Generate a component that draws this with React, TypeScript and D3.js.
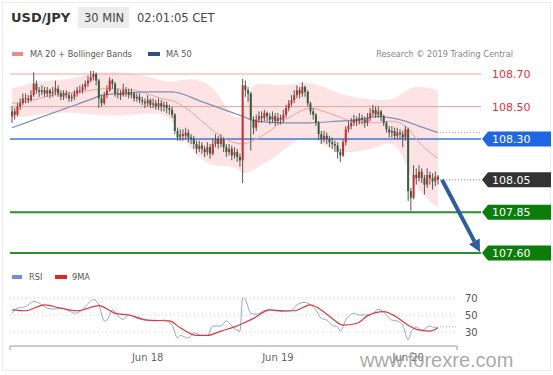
import React from "react";
import * as d3 from "d3";

// USD/JPY 30 min candles (open = previous close)
const firstOpen = 108.44;
const closes = [
  108.47, 108.45, 108.5, 108.52, 108.55, 108.55, 108.54, 108.57, 108.64, 108.6,
  108.59, 108.6, 108.58, 108.6, 108.58, 108.59, 108.61, 108.58, 108.56, 108.58,
  108.57, 108.55, 108.56, 108.58, 108.6, 108.6, 108.62, 108.64, 108.66, 108.68,
  108.7, 108.66, 108.55, 108.52, 108.57, 108.6, 108.66, 108.64, 108.58, 108.58,
  108.57, 108.6, 108.59, 108.57, 108.58, 108.55, 108.56, 108.54, 108.53, 108.52,
  108.54, 108.51, 108.52, 108.5, 108.52, 108.5, 108.51, 108.49, 108.48, 108.45,
  108.35, 108.31, 108.33, 108.32, 108.34, 108.31, 108.3, 108.27, 108.24, 108.26,
  108.24, 108.22, 108.25, 108.21, 108.27, 108.3, 108.27, 108.3, 108.25, 108.22,
  108.24, 108.2, 108.22, 108.19, 108.17, 108.63, 108.6, 108.58, 108.42, 108.37,
  108.42, 108.44, 108.43, 108.46, 108.44, 108.42, 108.44, 108.41, 108.43, 108.42,
  108.45, 108.49, 108.52, 108.54, 108.57, 108.6, 108.58, 108.62, 108.59, 108.52,
  108.47, 108.45, 108.4, 108.33, 108.3, 108.32, 108.3, 108.28, 108.27, 108.26,
  108.22, 108.2, 108.28, 108.36, 108.38, 108.4, 108.42, 108.41, 108.43, 108.42,
  108.4, 108.43, 108.46, 108.48, 108.45, 108.47, 108.44, 108.4, 108.36, 108.34,
  108.35, 108.32, 108.34, 108.33, 108.31, 108.36, 107.98, 107.94, 108.08, 108.06,
  108.1, 108.06, 108.02, 108.08, 108.06, 108.04, 108.07, 108.05,
];
const highs = [
  108.5, 108.49, 108.52, 108.55, 108.58, 108.58, 108.57, 108.6, 108.71, 108.66,
  108.62, 108.63, 108.62, 108.62, 108.61, 108.62, 108.66, 108.63, 108.6, 108.6,
  108.6, 108.59, 108.58, 108.6, 108.62, 108.63, 108.64, 108.66, 108.69, 108.72,
  108.72, 108.71, 108.67, 108.57, 108.59, 108.63, 108.68, 108.67, 108.65, 108.61,
  108.6, 108.64, 108.62, 108.61, 108.61, 108.59, 108.58, 108.58, 108.56, 108.55,
  108.57, 108.55, 108.55, 108.54, 108.55, 108.54, 108.53, 108.53, 108.51, 108.5,
  108.46, 108.37, 108.36, 108.36, 108.37, 108.36, 108.33, 108.32, 108.29, 108.29,
  108.28, 108.26, 108.28, 108.27, 108.3, 108.33, 108.32, 108.33, 108.31, 108.27,
  108.27, 108.26, 108.25, 108.24, 108.21, 108.67, 108.66, 108.62, 108.59, 108.44,
  108.45, 108.47, 108.47, 108.48, 108.47, 108.46, 108.47, 108.46, 108.46, 108.45,
  108.48, 108.51, 108.54, 108.57, 108.6, 108.63, 108.62, 108.65, 108.63, 108.6,
  108.53, 108.49, 108.46, 108.41, 108.35, 108.35, 108.34, 108.32, 108.31, 108.29,
  108.28, 108.24, 108.3, 108.38, 108.41, 108.43, 108.45, 108.44, 108.46, 108.45,
  108.44, 108.46, 108.49, 108.51, 108.5, 108.5, 108.48, 108.45, 108.41, 108.38,
  108.38, 108.37, 108.37, 108.36, 108.35, 108.38, 108.37, 108.0, 108.14, 108.12,
  108.14, 108.12, 108.08, 108.12, 108.1, 108.09, 108.1, 108.08,
];
const lows = [
  108.4, 108.42, 108.44, 108.48, 108.51, 108.52, 108.52, 108.53, 108.56, 108.58,
  108.56, 108.57, 108.56, 108.56, 108.55, 108.56, 108.57, 108.56, 108.54, 108.54,
  108.55, 108.53, 108.53, 108.54, 108.56, 108.58, 108.58, 108.6, 108.62, 108.65,
  108.66, 108.63, 108.49, 108.5, 108.51, 108.55, 108.59, 108.61, 108.56, 108.55,
  108.54, 108.56, 108.56, 108.55, 108.55, 108.53, 108.53, 108.52, 108.51, 108.49,
  108.5, 108.49, 108.49, 108.48, 108.48, 108.47, 108.47, 108.46, 108.45, 108.43,
  108.33, 108.29, 108.29, 108.29, 108.3, 108.28, 108.27, 108.24, 108.21, 108.22,
  108.21, 108.19, 108.2, 108.18, 108.2, 108.25, 108.24, 108.25, 108.22, 108.19,
  108.2, 108.17, 108.18, 108.16, 108.13, 108.03, 108.56, 108.53, 108.23, 108.33,
  108.35, 108.4, 108.4, 108.41, 108.41, 108.39, 108.4, 108.38, 108.39, 108.39,
  108.4, 108.43, 108.47, 108.5, 108.52, 108.55, 108.55, 108.56, 108.56, 108.5,
  108.45, 108.42, 108.38, 108.3, 108.27, 108.28, 108.27, 108.25, 108.24, 108.22,
  108.18, 108.16, 108.19, 108.26, 108.34, 108.36, 108.38, 108.38, 108.39, 108.39,
  108.37, 108.38, 108.41, 108.44, 108.43, 108.43, 108.41, 108.38, 108.34, 108.31,
  108.31, 108.3, 108.3, 108.3, 108.25, 108.29, 107.92, 107.86, 107.93, 108.02,
  108.04, 108.03, 107.96, 108.0, 108.02, 107.99, 108.01, 108.02,
];

// indicators: [candle index, value]
const ma50: [number, number][] = [
  [0, 108.37], [10, 108.43], [20, 108.49], [30, 108.55], [33, 108.57], [40, 108.58],
  [50, 108.59], [59, 108.59], [70, 108.53], [80, 108.47], [85, 108.44], [90, 108.41],
  [100, 108.4], [110, 108.4], [120, 108.41], [128, 108.42], [135, 108.44], [140, 108.43],
  [145, 108.41], [150, 108.38], [157, 108.34],
];
const ma20: [number, number][] = [
  [0, 108.52], [5, 108.53], [15, 108.57], [25, 108.59], [35, 108.61], [45, 108.6],
  [55, 108.55], [60, 108.53], [65, 108.48], [70, 108.41], [75, 108.34], [80, 108.29],
  [85, 108.27], [90, 108.3], [95, 108.35], [100, 108.41], [105, 108.46], [110, 108.49],
  [115, 108.47], [120, 108.44], [125, 108.41], [130, 108.4], [135, 108.4], [140, 108.41],
  [145, 108.38], [150, 108.28], [157, 108.18],
];
const bandIdx = [0, 10, 20, 30, 40, 50, 58, 63, 70, 76, 82, 85, 88, 95, 100, 105, 110, 115, 120, 128, 135, 141, 146, 150, 157];
const bandUpper = [
  108.61, 108.66, 108.66, 108.71, 108.71, 108.69, 108.64, 108.67, 108.67, 108.59, 108.4, 108.45,
  108.66, 108.63, 108.63, 108.64, 108.65, 108.62, 108.58, 108.55, 108.54, 108.54, 108.61, 108.63, 108.6,
];
const bandLower = [
  108.43, 108.45, 108.47, 108.45, 108.44, 108.46, 108.46, 108.3, 108.16, 108.13, 108.14, 108.08,
  108.1, 108.17, 108.23, 108.3, 108.31, 108.26, 108.22, 108.22, 108.25, 108.3, 108.12, 107.97, 107.88,
];

const rsi: [number, number][] = [
  [0, 52], [2, 58], [5, 60], [8, 66], [10, 64], [13, 58], [15, 57], [18, 58], [21, 55], [23, 52],
  [25, 54], [27, 60], [30, 68], [32, 62], [34, 43], [35, 44], [37, 56], [39, 49], [41, 45], [43, 50],
  [46, 46], [49, 44], [53, 43], [56, 44], [59, 38], [61, 23], [62, 26], [65, 23], [67, 29], [70, 26],
  [72, 26], [74, 37], [77, 37], [79, 43], [81, 37], [84, 31], [85, 70], [86, 68], [88, 52], [90, 51],
  [94, 56], [97, 55], [100, 54], [103, 55], [105, 62], [108, 65], [110, 62], [112, 56], [114, 46],
  [116, 44], [118, 38], [120, 36], [121, 31], [123, 44], [126, 52], [128, 50], [130, 50], [133, 52],
  [135, 57], [138, 50], [140, 44], [142, 43], [144, 38], [146, 21], [147, 29], [149, 36], [151, 32],
  [154, 37], [156, 35], [157, 36],
];
const rsiMa: [number, number][] = [
  [0, 56], [5, 55], [12, 62], [18, 58], [24, 55], [32, 61], [38, 52], [43, 50], [50, 44], [58, 43],
  [62, 35], [68, 26], [72, 26], [77, 31], [82, 36], [85, 40], [89, 46], [95, 56], [100, 55], [104, 55],
  [110, 62], [113, 58], [118, 46], [122, 38], [127, 40], [131, 49], [137, 54], [141, 49], [146, 38],
  [149, 33], [154, 31], [157, 35],
];

const dayTicks: [number, string][] = [[50, "Jun 18"], [98, "Jun 19"], [146, "Jun 20"]];
const rsiLevels = [70, 50, 30];

type Level = { value: number; kind: "text" | "box"; color: string; line: string | null; width: number };
const levels: Level[] = [
  { value: 108.7, kind: "text", color: "#d9343a", line: "#f5a3a3", width: 1 },
  { value: 108.5, kind: "text", color: "#d9343a", line: "#f5a3a3", width: 1 },
  { value: 108.3, kind: "box", color: "#1f66e0", line: "#3b78db", width: 1.5 },
  { value: 108.05, kind: "box", color: "#333333", line: null, width: 0 },
  { value: 107.85, kind: "box", color: "#0b7d0b", line: "#2b8f2b", width: 2 },
  { value: 107.6, kind: "box", color: "#0b7d0b", line: "#2b8f2b", width: 2 },
];
const target = 107.6;

const FONT = "DejaVu Sans, sans-serif";

export default function App() {
  const n = closes.length;
  const x = d3.scaleLinear().domain([0, n - 1]).range([12, 438]);
  const y = d3.scaleLinear().domain([107.6, 108.7]).range([253, 74]);
  const yr = d3.scaleLinear().domain([30, 70]).range([332, 298]);

  const plotLeft = 10;
  const plotRight = 481;
  const rsiRight = 457;

  const lineP = d3
    .line<[number, number]>()
    .x((d) => x(d[0]))
    .y((d) => y(d[1]))
    .curve(d3.curveMonotoneX);
  const lineR = d3
    .line<[number, number]>()
    .x((d) => x(d[0]))
    .y((d) => yr(d[1]))
    .curve(d3.curveMonotoneX);
  const band = d3
    .area<number>()
    .x((_, i) => x(bandIdx[i]))
    .y0((_, i) => y(bandLower[i]))
    .y1((_, i) => y(bandUpper[i]))
    .curve(d3.curveBasis);

  const lastX = x(n - 1);
  const lastClose = closes[n - 1];
  const lastMa50 = ma50[ma50.length - 1][1];
  const lastRsi = rsi[rsi.length - 1][1];

  // arrow from last close to target
  const ax0 = lastX + 4;
  const ay0 = y(lastClose);
  const ax1 = plotRight - 1;
  const ay1 = y(target) - 1;
  const ang = Math.atan2(ay1 - ay0, ax1 - ax0);
  const headLen = 12;
  const headW = 6;
  const bx = ax1 - headLen * Math.cos(ang);
  const by = ay1 - headLen * Math.sin(ang);
  const px = -Math.sin(ang) * headW;
  const py = Math.cos(ang) * headW;

  return (
    <svg
      width={553}
      height={375}
      style={{ position: "absolute", left: 0, top: 0, background: "#fff" }}
      fontFamily={FONT}
    >
      <rect x={2.5} y={2.5} width={548} height={368} fill="none" stroke="#ececec" />

      {/* header */}
      <text x={11} y={22} fontSize={13} fontWeight="bold" fill="#333">USD/JPY</text>
      <rect x={78} y={7} width={51} height={21} fill="#ececec" />
      <text x={84} y={22} fontSize={11.5} fill="#444">30 MIN</text>
      <text x={137} y={22} fontSize={11.5} fill="#444">02:01:05 CET</text>

      {/* legend */}
      <rect x={12} y={52} width={11} height={4} fill="#f08a8a" />
      <text x={30} y={57} fontSize={8.2} fill="#555">MA 20 + Bollinger Bands</text>
      <rect x={148} y={52} width={12} height={4} fill="#2c4f86" />
      <text x={166} y={57} fontSize={8.2} fill="#555">MA 50</text>
      <text x={513} y={57} fontSize={8.2} fill="#888" textAnchor="end">Research © 2019 Trading Central</text>

      {/* bollinger band */}
      <path d={band(bandUpper) ?? ""} fill="#fde3e3" />

      {/* level lines */}
      {levels.map((l) =>
        l.line ? (
          <line key={l.value} x1={plotLeft} x2={plotRight} y1={y(l.value)} y2={y(l.value)} stroke={l.line} strokeWidth={l.width} />
        ) : null
      )}

      {/* moving averages */}
      <path d={lineP(ma20) ?? ""} fill="none" stroke="#f0a3a3" strokeWidth={1} />
      <path d={lineP(ma50) ?? ""} fill="none" stroke="#7f90b4" strokeWidth={1.2} />

      {/* candles */}
      {closes.map((c, i) => {
        const o = i === 0 ? firstOpen : closes[i - 1];
        const up = c >= o;
        const col = up ? "#c92c2c" : "#33603a";
        const top = y(Math.max(o, c));
        const bot = y(Math.min(o, c));
        return (
          <g key={i}>
            <line x1={x(i)} x2={x(i)} y1={y(highs[i])} y2={y(lows[i])} stroke="#555" strokeWidth={1} />
            <rect x={x(i) - 1} y={top} width={2} height={Math.max(1, bot - top)} fill={col} />
          </g>
        );
      })}

      {/* dotted markers to labels */}
      <line x1={lastX + 2} x2={plotRight} y1={y(lastMa50)} y2={y(lastMa50)} stroke="#999" strokeDasharray="1,2" />
      <line x1={lastX + 2} x2={plotRight} y1={y(lastClose)} y2={y(lastClose)} stroke="#888" strokeDasharray="1,2" />

      {/* arrow */}
      <line x1={ax0} y1={ay0} x2={bx} y2={by} stroke="#2d5d9c" strokeWidth={4} />
      <polygon points={`${ax1},${ay1} ${bx + px},${by + py} ${bx - px},${by - py}`} fill="#2d5d9c" />

      {/* price labels */}
      {levels.map((l) => {
        const cy = y(l.value);
        if (l.kind === "text") {
          return (
            <text key={l.value} x={492} y={cy + 4} fontSize={11} fill={l.color}>{l.value.toFixed(2)}</text>
          );
        }
        return (
          <g key={l.value}>
            <polygon points={`${plotRight + 1},${cy} ${plotRight + 7},${cy - 7.5} 551,${cy - 7.5} 551,${cy + 7.5} ${plotRight + 7},${cy + 7.5}`} fill={l.color} />
            <text x={492} y={cy + 4} fontSize={11} fill="#fff">{l.value.toFixed(2)}</text>
          </g>
        );
      })}

      {/* RSI legend */}
      <rect x={12} y={275} width={10} height={4} fill="#6f8fd8" />
      <text x={29} y={280} fontSize={8.2} fill="#555">RSI</text>
      <rect x={55} y={275} width={12} height={4} fill="#e32222" />
      <text x={72} y={280} fontSize={8.2} fill="#555">9MA</text>

      {/* RSI panel */}
      {rsiLevels.map((v) => (
        <g key={v}>
          <line x1={plotLeft} x2={rsiRight} y1={yr(v)} y2={yr(v)} stroke="#c8c8c8" strokeDasharray="1,3" />
          <text x={465} y={yr(v) + 4} fontSize={10} fill="#555">{v}</text>
        </g>
      ))}
      <line x1={lastX + 2} x2={rsiRight} y1={yr(lastRsi)} y2={yr(lastRsi)} stroke="#aaa" strokeDasharray="1,2" />
      <path d={lineR(rsi) ?? ""} fill="none" stroke="#8ea6dc" strokeWidth={1} />
      <path d={lineR(rsiMa) ?? ""} fill="none" stroke="#e0393c" strokeWidth={1.2} />

      {/* time axis */}
      <line x1={plotLeft} x2={rsiRight} y1={346} y2={346} stroke="#bbb" strokeWidth={1.5} />
      <line x1={plotLeft} x2={plotLeft} y1={346} y2={350} stroke="#bbb" strokeWidth={1.5} />
      <line x1={rsiRight} x2={rsiRight} y1={346} y2={350} stroke="#bbb" strokeWidth={1.5} />
      {dayTicks.map(([i, label]) => (
        <text key={label} x={x(i)} y={361} fontSize={10} fill="#666" textAnchor="middle">{label}</text>
      ))}

      {/* watermark */}
      <text x={360} y={367} fontSize={20} fontFamily="Liberation Sans, Arial, sans-serif" fill="#999" fillOpacity={0.85}>www.forexre.com</text>
    </svg>
  );
}
